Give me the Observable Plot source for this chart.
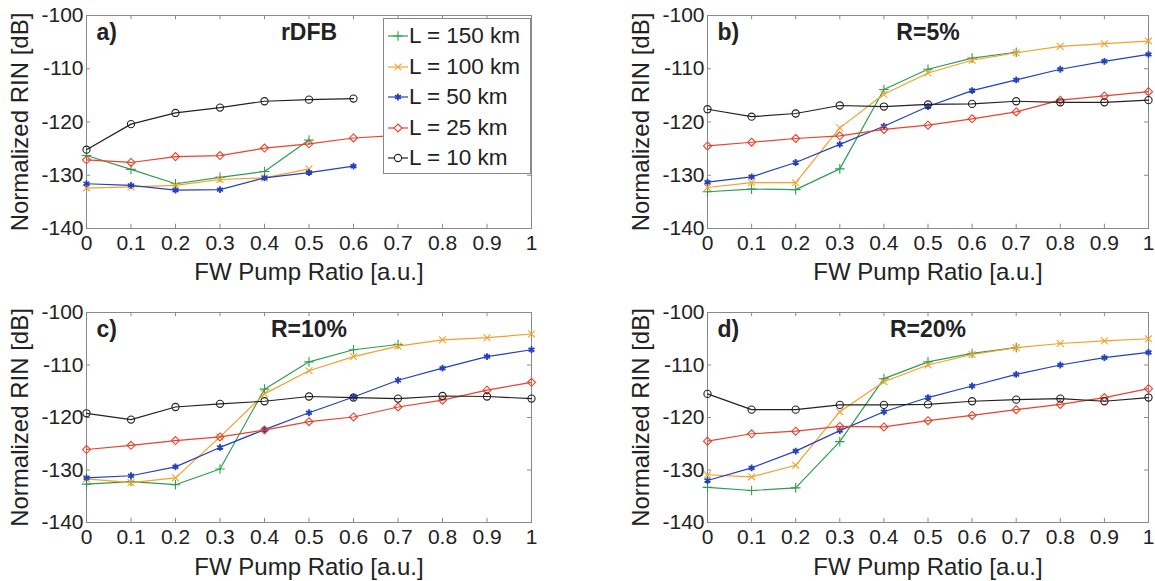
<!DOCTYPE html>
<html>
<head>
<meta charset="utf-8">
<script src="https://cdn.jsdelivr.net/npm/d3@7"></script>
<script src="https://cdn.jsdelivr.net/npm/@observablehq/plot@0.6"></script>
<style>
  html, body { margin: 0; padding: 0; background: #fff; }
  #chart { position: relative; width: 1155px; height: 581px; font-family: "Liberation Sans", Arial, Helvetica, sans-serif; color: #222; }
  .panel { position: absolute; }
  #legend { position: absolute; left: 383px; top: 18px; width: 146px; height: 154px; border: 1px solid #8a8a8a; background: #fff; }
  .lg-row { position: absolute; left: 0; height: 30px; display: flex; align-items: center; font-size: 22.5px; white-space: nowrap; }
  .lg-row svg { margin-left: 4px; margin-right: 1px; }
</style>
</head>
<body>
<div id="chart"></div>
<script>
// ---------------- data ----------------
const xValues = [0, 0.1, 0.2, 0.3, 0.4, 0.5, 0.6, 0.7, 0.8, 0.9, 1];
const xTicks = [0, 0.1, 0.2, 0.3, 0.4, 0.5, 0.6, 0.7, 0.8, 0.9, 1];
const yTicks = [-140, -130, -120, -110, -100];
const seriesNames = ["L = 150 km", "L = 100 km", "L = 50 km", "L = 25 km", "L = 10 km"];
const seriesColors = ["#2f9d50", "#f3a12a", "#2440bd", "#e8432d", "#222222"];
const seriesSymbols = ["plus", "times", "asterisk", "diamond2", "circle"];
const panelLetters = ["a)", "b)", "c)", "d)"];
const panelTitles = ["rDFB", "R=5%", "R=10%", "R=20%"];
const xLabel = "FW Pump Ratio [a.u.]";
const yLabel = "Normalized RIN [dB]";

// panel a) rDFB
const a150 = [-126.3, -128.9, -131.6, -130.4, -129.3, -123.4];
const a100 = [-132.4, -132.2, -131.9, -130.8, -130.5, -128.8];
const a50  = [-131.6, -131.9, -132.8, -132.7, -130.5, -129.5, -128.3];
const a25  = [-127.1, -127.6, -126.5, -126.3, -124.9, -124.1, -123.0, -122.5];
const a10  = [-125.2, -120.4, -118.3, -117.3, -116.1, -115.8, -115.6];
// panel b) R=5%
const b150 = [-133.1, -132.6, -132.7, -128.8, -113.9, -110.1, -108.0, -106.9];
const b100 = [-132.3, -131.4, -131.4, -121.1, -114.8, -110.8, -108.4, -107.0, -105.8, -105.3, -104.8];
const b50  = [-131.3, -130.3, -127.6, -124.2, -120.8, -117.1, -114.1, -112.1, -110.1, -108.6, -107.3];
const b25  = [-124.5, -123.8, -123.1, -122.6, -121.4, -120.6, -119.4, -118.1, -115.9, -115.1, -114.3];
const b10  = [-117.6, -119.0, -118.4, -116.9, -117.1, -116.7, -116.6, -116.1, -116.3, -116.3, -115.9];
// panel c) R=10%
const c150 = [-132.7, -132.2, -132.8, -129.8, -114.6, -109.4, -107.1, -106.1];
const c100 = [-131.7, -132.4, -131.5, -123.7, -115.5, -111.1, -108.4, -106.4, -105.2, -104.8, -104.1];
const c50  = [-131.5, -131.1, -129.4, -125.7, -122.3, -119.1, -116.1, -112.9, -110.6, -108.4, -107.1];
const c25  = [-126.1, -125.3, -124.4, -123.7, -122.4, -120.8, -119.9, -118.0, -116.7, -114.8, -113.3];
const c10  = [-119.2, -120.4, -118.0, -117.4, -116.9, -116.0, -116.2, -116.4, -115.9, -116.0, -116.4];
// panel d) R=20%
const d150 = [-133.3, -133.9, -133.4, -124.6, -112.6, -109.4, -107.8, -106.7];
const d100 = [-130.9, -131.3, -129.1, -118.9, -113.2, -110.0, -108.0, -106.7, -105.9, -105.4, -105.0];
const d50  = [-132.0, -129.6, -126.4, -122.5, -118.9, -116.2, -114.0, -111.8, -110.0, -108.6, -107.6];
const d25  = [-124.5, -123.1, -122.6, -121.7, -121.8, -120.6, -119.6, -118.5, -117.5, -116.2, -114.5];
const d10  = [-115.5, -118.5, -118.5, -117.6, -117.6, -117.5, -116.9, -116.6, -116.4, -116.9, -116.2];

const panelSeries = [
  [a150, a100, a50, a25, a10],
  [b150, b100, b50, b25, b10],
  [c150, c100, c50, c25, c10],
  [d150, d100, d50, d25, d10]
];

// ---------------- layout ----------------
const layouts = [
  {left: 0,   top: 0,   width: 560, height: 290, ml: 86,  mr: 29, mt: 15, mb: 62, xlabDy: 44},
  {left: 580, top: 0,   width: 575, height: 290, ml: 127, mr: 7,  mt: 15, mb: 62, xlabDy: 44},
  {left: 0,   top: 290, width: 560, height: 291, ml: 86,  mr: 29, mt: 22, mb: 59, xlabDy: 45},
  {left: 580, top: 290, width: 575, height: 291, ml: 127, mr: 7,  mt: 22, mb: 59, xlabDy: 45}
];

const chart = document.getElementById("chart");
const fmt = d => String(d);
const markerR = s => (s === "circle" || s === "diamond2") ? 3.6 : 3.2;

panelSeries.forEach((series, p) => {
  const L = layouts[p];
  const marks = [
    Plot.frame({stroke: "#8a8a8a", strokeWidth: 1}),
    // inward tick marks
    Plot.ruleX(xTicks, {x: d => d, y1: -140, y2: -139.2, stroke: "#8a8a8a"}),
    Plot.ruleX(xTicks, {x: d => d, y1: -100, y2: -100.8, stroke: "#8a8a8a"}),
    Plot.ruleY(yTicks, {y: d => d, x1: 0, x2: 0.009, stroke: "#8a8a8a"}),
    Plot.ruleY(yTicks, {y: d => d, x1: 1, x2: 0.991, stroke: "#8a8a8a"})
  ];
  series.forEach((vals, s) => {
    const pts = vals.map((v, j) => ({x: xValues[j], y: v}));
    marks.push(Plot.line(pts, {x: "x", y: "y", stroke: seriesColors[s], strokeWidth: 1.2}));
    marks.push(Plot.dot(pts, {
      x: "x", y: "y", symbol: seriesSymbols[s], r: markerR(seriesSymbols[s]),
      stroke: seriesColors[s], fill: "none", strokeWidth: seriesSymbols[s] === "asterisk" ? 1.8 : 1.1
    }));
  });
  marks.push(
    Plot.text([panelLetters[p]], {text: d => d, frameAnchor: "top-left", dx: 10, dy: 17, textAnchor: "start", lineAnchor: "middle", fontWeight: "bold", fontSize: 23, fill: "#222"}),
    Plot.text([panelTitles[p]], {text: d => d, frameAnchor: "top", dy: 17, textAnchor: "middle", lineAnchor: "middle", fontWeight: "bold", fontSize: 23, fill: "#222"}),
    Plot.text([xLabel], {text: d => d, frameAnchor: "bottom", dy: L.xlabDy, textAnchor: "middle", lineAnchor: "middle", fontSize: 24, fill: "#222"}),
    Plot.text([yLabel], {text: d => d, frameAnchor: "left", dx: -66, rotate: -90, textAnchor: "middle", lineAnchor: "middle", fontSize: 24, fill: "#222"})
  );
  const svg = Plot.plot({
    width: L.width, height: L.height,
    marginLeft: L.ml, marginRight: L.mr, marginTop: L.mt, marginBottom: L.mb,
    style: {fontFamily: "'Liberation Sans', Arial, Helvetica, sans-serif", fontSize: "21px", color: "#222", background: "transparent", overflow: "visible"},
    x: {domain: [0, 1], ticks: xTicks, tickFormat: fmt, tickSize: 0, tickPadding: 7, label: null},
    y: {domain: [-140, -100], ticks: yTicks, tickFormat: fmt, tickSize: 0, tickPadding: 3, label: null},
    marks
  });
  const div = document.createElement("div");
  div.className = "panel";
  div.style.left = L.left + "px";
  div.style.top = L.top + "px";
  div.appendChild(svg);
  chart.appendChild(div);
});

// ---------------- legend (panel a) ----------------
const legend = document.createElement("div");
legend.id = "legend";
seriesNames.forEach((name, s) => {
  const row = document.createElement("div");
  row.className = "lg-row";
  row.style.top = (2 + s * 30.5) + "px";
  const sw = d3.create("svg").attr("width", 20).attr("height", 14);
  sw.append("line").attr("x1", 0).attr("x2", 20).attr("y1", 7).attr("y2", 7)
    .attr("stroke", seriesColors[s]).attr("stroke-width", 1.2);
  const symMap = {plus: d3.symbolPlus, times: d3.symbolTimes, asterisk: d3.symbolAsterisk, diamond2: d3.symbolDiamond2, circle: d3.symbolCircle};
  const r = markerR(seriesSymbols[s]);
  sw.append("path").attr("transform", "translate(10,7)")
    .attr("d", d3.symbol(symMap[seriesSymbols[s]], Math.PI * r * r)())
    .attr("fill", "#fff").attr("stroke", seriesColors[s])
    .attr("stroke-width", seriesSymbols[s] === "asterisk" ? 1.8 : 1.1);
  row.appendChild(sw.node());
  const t = document.createElement("span");
  t.textContent = name;
  row.appendChild(t);
  legend.appendChild(row);
});
chart.appendChild(legend);
</script>
</body>
</html>
